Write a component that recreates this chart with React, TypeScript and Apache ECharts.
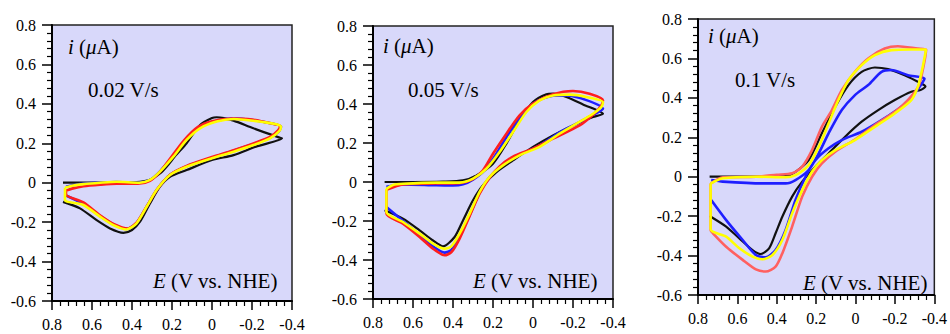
import React, { useEffect, useRef } from "react";
import * as echarts from "echarts";

type P = [number, number][];

const xTicks = ["0.8", "0.6", "0.4", "0.2", "0", "-0.2", "-0.4"];
const yTicks = ["-0.6", "-0.4", "-0.2", "0", "0.2", "0.4", "0.6", "0.8"];
const scanRates = ["0.02 V/s", "0.05 V/s", "0.1 V/s"];

const p1Black: P = [[0.745,0],[0.6,0],[0.45,0.001],[0.36,0.005],[0.31,0.015],[0.26,0.047],[0.227,0.081],[0.18,0.14],[0.127,0.2],[0.06,0.293],[0.0,0.328],[-0.023,0.332],[-0.06,0.328],[-0.108,0.315],[-0.207,0.276],[-0.34,0.228],[-0.35,0.225],[-0.22,0.183],[-0.108,0.14],[0,0.115],[0.127,0.064],[0.21,0.03],[0.26,-0.02],[0.31,-0.105],[0.36,-0.198],[0.4,-0.24],[0.443,-0.254],[0.51,-0.232],[0.577,-0.19],[0.66,-0.13],[0.745,-0.097]];
const p1Blue: P = [[0.73,-0.02],[0.65,-0.005],[0.56,0.0],[0.48,0.003],[0.37,0.0],[0.31,0.014],[0.26,0.058],[0.195,0.135],[0.13,0.22],[0.065,0.28],[-0.02,0.313],[-0.1,0.325],[-0.2,0.318],[-0.3,0.3],[-0.345,0.285],[-0.335,0.26],[-0.29,0.228],[-0.2,0.194],[-0.1,0.16],[0.0,0.127],[0.127,0.083],[0.21,0.04],[0.276,-0.036],[0.326,-0.12],[0.376,-0.203],[0.425,-0.235],[0.49,-0.213],[0.56,-0.168],[0.643,-0.108],[0.73,-0.065]];
const p1Red: P = [[0.73,-0.04],[0.7,-0.03],[0.643,-0.018],[0.56,-0.01],[0.477,-0.005],[0.37,-0.005],[0.31,0.01],[0.26,0.055],[0.2,0.135],[0.14,0.215],[0.07,0.283],[0.0,0.312],[-0.1,0.325],[-0.2,0.32],[-0.3,0.3],[-0.34,0.288],[-0.33,0.265],[-0.29,0.232],[-0.2,0.197],[-0.1,0.162],[0.0,0.13],[0.127,0.085],[0.21,0.04],[0.275,-0.035],[0.325,-0.118],[0.375,-0.2],[0.42,-0.232],[0.49,-0.21],[0.56,-0.165],[0.643,-0.1],[0.73,-0.06],[0.73,-0.04]];
const p1Yellow: P = [[0.735,-0.025],[0.7,-0.015],[0.643,-0.007],[0.56,0.0],[0.477,0.005],[0.363,0.0],[0.31,0.014],[0.26,0.056],[0.193,0.132],[0.127,0.217],[0.06,0.276],[-0.023,0.31],[-0.108,0.323],[-0.207,0.314],[-0.317,0.298],[-0.345,0.285],[-0.335,0.26],[-0.29,0.225],[-0.207,0.191],[-0.108,0.157],[0.0,0.124],[0.127,0.081],[0.21,0.039],[0.277,-0.037],[0.327,-0.122],[0.377,-0.206],[0.427,-0.237],[0.493,-0.215],[0.56,-0.172],[0.643,-0.113],[0.735,-0.088],[0.735,-0.025]];

const p2Black: P = [[0.742,0],[0.6,0],[0.45,0.002],[0.35,0.008],[0.283,0.034],[0.2,0.094],[0.133,0.197],[0.067,0.316],[0.0,0.41],[-0.067,0.45],[-0.1,0.453],[-0.167,0.436],[-0.25,0.398],[-0.35,0.35],[-0.3,0.333],[-0.2,0.29],[-0.1,0.239],[0.0,0.18],[0.1,0.111],[0.183,0.051],[0.25,-0.017],[0.3,-0.094],[0.35,-0.197],[0.392,-0.282],[0.45,-0.33],[0.5,-0.3],[0.567,-0.248],[0.65,-0.188],[0.742,-0.145]];
const p2Blue: P = [[0.733,-0.025],[0.65,-0.012],[0.483,-0.017],[0.4,-0.018],[0.35,-0.012],[0.3,0.012],[0.24,0.062],[0.18,0.15],[0.12,0.25],[0.05,0.35],[-0.02,0.415],[-0.1,0.442],[-0.167,0.444],[-0.267,0.42],[-0.35,0.376],[-0.3,0.345],[-0.22,0.3],[-0.133,0.255],[-0.03,0.185],[0.067,0.14],[0.15,0.087],[0.217,0.025],[0.267,-0.055],[0.317,-0.17],[0.367,-0.28],[0.408,-0.348],[0.442,-0.362],[0.5,-0.33],[0.567,-0.272],[0.65,-0.2],[0.733,-0.128]];
const p2Red: P = [[0.733,-0.04],[0.65,-0.012],[0.483,-0.008],[0.367,-0.006],[0.3,0.015],[0.25,0.06],[0.2,0.145],[0.133,0.248],[0.067,0.342],[0.0,0.402],[-0.1,0.45],[-0.2,0.467],[-0.283,0.453],[-0.35,0.419],[-0.34,0.39],[-0.3,0.345],[-0.233,0.29],[-0.1,0.222],[0.0,0.171],[0.1,0.13],[0.167,0.08],[0.217,0.022],[0.267,-0.06],[0.317,-0.175],[0.367,-0.29],[0.408,-0.36],[0.442,-0.376],[0.5,-0.342],[0.567,-0.282],[0.65,-0.214],[0.733,-0.162],[0.733,-0.04]];
const p2Yellow: P = [[0.733,-0.035],[0.7,-0.015],[0.65,-0.009],[0.483,-0.003],[0.367,-0.003],[0.3,0.017],[0.233,0.068],[0.167,0.154],[0.1,0.256],[0.033,0.359],[-0.033,0.419],[-0.1,0.444],[-0.183,0.448],[-0.267,0.436],[-0.35,0.41],[-0.342,0.385],[-0.3,0.35],[-0.217,0.299],[-0.133,0.248],[-0.033,0.18],[0.067,0.137],[0.15,0.085],[0.217,0.026],[0.267,-0.051],[0.317,-0.162],[0.367,-0.265],[0.408,-0.33],[0.442,-0.342],[0.5,-0.316],[0.567,-0.265],[0.65,-0.205],[0.733,-0.154],[0.733,-0.035]];

const p3Black: P = [[0.741,0],[0.6,0],[0.45,0.001],[0.355,0.003],[0.305,0.025],[0.238,0.084],[0.171,0.22],[0.103,0.355],[0.036,0.465],[-0.031,0.532],[-0.098,0.554],[-0.165,0.546],[-0.249,0.515],[-0.333,0.473],[-0.355,0.458],[-0.33,0.44],[-0.283,0.431],[-0.199,0.389],[-0.115,0.338],[-0.031,0.279],[0.053,0.203],[0.137,0.118],[0.204,0.051],[0.271,-0.025],[0.322,-0.101],[0.372,-0.203],[0.406,-0.287],[0.439,-0.363],[0.481,-0.392],[0.523,-0.372],[0.59,-0.313],[0.657,-0.253],[0.741,-0.199]];
const p3Blue: P = [[0.733,-0.017],[0.674,-0.025],[0.473,-0.034],[0.355,-0.034],[0.305,-0.017],[0.238,0.034],[0.187,0.118],[0.137,0.22],[0.07,0.338],[0.003,0.414],[-0.064,0.465],[-0.132,0.532],[-0.182,0.541],[-0.266,0.515],[-0.35,0.498],[-0.335,0.47],[-0.299,0.422],[-0.232,0.355],[-0.132,0.287],[-0.031,0.228],[0.07,0.186],[0.137,0.144],[0.204,0.084],[0.254,0.0],[0.305,-0.118],[0.355,-0.27],[0.406,-0.372],[0.456,-0.409],[0.506,-0.397],[0.573,-0.321],[0.657,-0.22],[0.733,-0.118]];
const p3Red: P = [[0.736,-0.035],[0.674,-0.003],[0.506,0.0],[0.4,0.01],[0.322,0.017],[0.271,0.051],[0.221,0.135],[0.171,0.253],[0.12,0.338],[0.07,0.439],[0.003,0.532],[-0.064,0.6],[-0.148,0.65],[-0.215,0.662],[-0.316,0.65],[-0.358,0.645],[-0.345,0.56],[-0.32,0.46],[-0.266,0.389],[-0.199,0.329],[-0.098,0.262],[0.003,0.189],[0.103,0.127],[0.171,0.068],[0.221,0.0],[0.271,-0.101],[0.322,-0.253],[0.372,-0.389],[0.406,-0.456],[0.456,-0.481],[0.506,-0.47],[0.573,-0.422],[0.657,-0.355],[0.724,-0.287],[0.736,-0.27],[0.736,-0.035]];
const p3Yellow: P = [[0.736,-0.035],[0.674,-0.008],[0.506,0.0],[0.355,-0.003],[0.305,0.008],[0.238,0.059],[0.187,0.152],[0.137,0.27],[0.087,0.389],[0.036,0.49],[-0.031,0.566],[-0.098,0.617],[-0.182,0.642],[-0.283,0.645],[-0.358,0.645],[-0.341,0.557],[-0.316,0.456],[-0.283,0.389],[-0.199,0.321],[-0.098,0.253],[0.003,0.186],[0.103,0.135],[0.171,0.084],[0.221,0.025],[0.271,-0.068],[0.322,-0.186],[0.372,-0.321],[0.422,-0.397],[0.473,-0.419],[0.523,-0.405],[0.59,-0.363],[0.657,-0.304],[0.736,-0.267],[0.736,-0.035]];

const panels = [
  { curves: [p1Black, p1Blue, p1Red, p1Yellow], red: "#ff1e1e" },
  { curves: [p2Black, p2Blue, p2Red, p2Yellow], red: "#ff1e1e" },
  { curves: [p3Black, p3Blue, p3Red, p3Yellow], red: "#ff6060" },
];

const FONT = "Liberation Serif";

export default function App() {
  const ref = useRef<HTMLDivElement>(null);
  useEffect(() => {
    document.body.style.margin = "0";
    const chart = echarts.init(ref.current!, undefined, { renderer: "svg" });
    const grids = [
      { left: 52, top: 25, width: 240, height: 276 },
      { left: 373, top: 26, width: 240, height: 273 },
      { left: 698, top: 19, width: 239, height: 276 },
    ];
    const fmt = (v: number) => {
      const r = Math.round(v * 10) / 10;
      return r === 0 ? "0" : String(r);
    };
    const xAxis = grids.map((_, k) => ({
      type: "value",
      gridIndex: k,
      inverse: true,
      min: -0.4,
      max: 0.8,
      interval: 0.2,
      axisLine: { show: true, onZero: false, lineStyle: { color: "#000", width: 2 } },
      axisTick: { show: true, length: 9, lineStyle: { color: "#000", width: 1.5 } },
      minorTick: { show: true, splitNumber: 5, length: 5, lineStyle: { color: "#000", width: 1.2 } },
      splitLine: { show: false },
      axisLabel: {
        color: "#000", fontFamily: FONT, fontSize: 16, margin: 15,
        formatter: (v: number) => { const s = fmt(v); return xTicks.includes(s) ? s : ""; },
      },
    }));
    const yAxis = grids.map((_, k) => ({
      type: "value",
      gridIndex: k,
      min: -0.6,
      max: 0.8,
      interval: 0.2,
      axisLine: { show: true, onZero: false, lineStyle: { color: "#000", width: 2 } },
      axisTick: { show: true, length: 10, lineStyle: { color: "#000", width: 1.5 } },
      minorTick: { show: true, splitNumber: 5, length: 5, lineStyle: { color: "#000", width: 1.2 } },
      splitLine: { show: false },
      axisLabel: {
        color: "#000", fontFamily: FONT, fontSize: 16, margin: 16,
        formatter: (v: number) => { const s = fmt(v); return yTicks.includes(s) ? s : ""; },
      },
    }));
    const colors = ["#111111", "#1f1fff", "", "#ffff00"];
    const series: any[] = [];
    panels.forEach((p, k) => {
      p.curves.forEach((c, j) => {
        series.push({
          type: "line",
          xAxisIndex: k,
          yAxisIndex: k,
          data: c,
          showSymbol: false,
          smooth: 0.25,
          lineStyle: { color: j === 2 ? p.red : colors[j], width: j === 0 ? 2.2 : 2.6 },
          z: 2 + j,
        });
      });
    });
    const texts = [
      { i: [68, 47], r: [88, 90], e: [153, 281] },
      { i: [383, 46], r: [408, 90], e: [473, 281] },
      { i: [708, 36], r: [735, 80], e: [803, 283] },
    ];
    const FS = 21;
    const graphic: any[] = [];
    texts.forEach((t, k) => {
      const base = { fontFamily: FONT, fontSize: FS, fill: "#000", verticalAlign: "middle", align: "left" };
      graphic.push({
        type: "text", x: t.i[0], y: t.i[1], z: 100,
        style: { ...base, text: "{it|i} ({it|μ}A)", rich: { it: { fontStyle: "italic", fontFamily: FONT, fontSize: FS } } },
      });
      graphic.push({ type: "text", x: t.r[0], y: t.r[1], z: 100, style: { ...base, text: scanRates[k] } });
      graphic.push({
        type: "text", x: t.e[0], y: t.e[1], z: 100,
        style: { ...base, text: "{it|E} (V vs. NHE)", rich: { it: { fontStyle: "italic", fontFamily: FONT, fontSize: FS } } },
      });
    });
    chart.setOption({
      animation: false,
      backgroundColor: "#ffffff",
      textStyle: { fontFamily: FONT },
      grid: grids.map((g) => ({ ...g, show: true, backgroundColor: "#d8d8fa", borderColor: "#222", borderWidth: 1.5 })),
      xAxis,
      yAxis,
      series,
      graphic,
    });
    return () => chart.dispose();
  }, []);
  return <div ref={ref} style={{ width: 950, height: 334 }} />;
}
